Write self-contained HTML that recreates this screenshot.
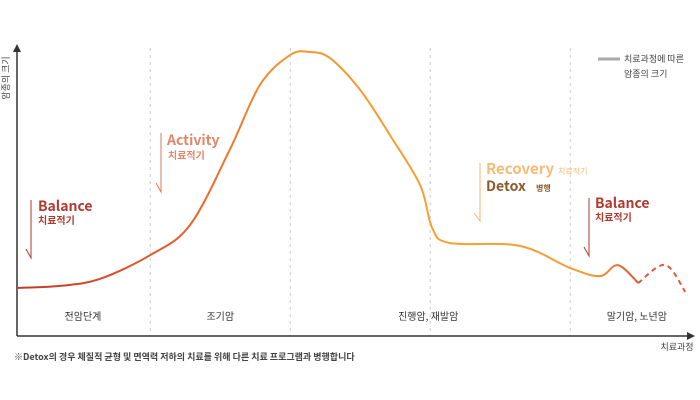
<!DOCTYPE html>
<html><head><meta charset="utf-8"><style>
body{margin:0;background:#fff;}
svg{display:block;font-family:"Noto Sans CJK KR","Liberation Sans",sans-serif;}
</style></head><body>
<svg id="chart" width="700" height="400" viewBox="0 0 700 400">
<defs>
<linearGradient id="g" gradientUnits="userSpaceOnUse" x1="17" y1="0" x2="690" y2="0">
<stop offset="0" stop-color="#c0392b"/><stop offset="0.25" stop-color="#e8602c"/>
<stop offset="0.4" stop-color="#f7942f"/><stop offset="0.65" stop-color="#f8a233"/>
<stop offset="0.85" stop-color="#f39a3a"/><stop offset="0.93" stop-color="#d9532c"/><stop offset="1" stop-color="#e05a3a"/>
</linearGradient>
</defs>
<g id="grid"></g>
<line x1="17" y1="336" x2="17" y2="50" stroke="#333" stroke-width="1.5"/>
<polygon points="17,44 13,52 21,52" fill="#333"/>
<line x1="17" y1="336" x2="688" y2="336" stroke="#333" stroke-width="1.5"/>
<polygon points="695,336 687,332 687,340" fill="#333"/>
<text transform="translate(9,78) rotate(-90)" text-anchor="middle" font-size="9" fill="#444">암종의 크기</text>
<text x="677" y="350" text-anchor="middle" font-size="9" fill="#444">치료과정</text>
<g id="curve"></g>
<g id="stages"></g>
<line x1="598" y1="59" x2="620" y2="59" stroke="#aaa" stroke-width="3"/>
<text x="624" y="62" font-size="9" fill="#444">치료과정에 따른</text>
<text x="624" y="77" font-size="9" fill="#444">암종의 크기</text>
<g>
<path d="M31,200 V258 L26,249" fill="none" stroke="#b03a2e" stroke-width="1"/>
<text x="38" y="211" font-size="14" font-weight="bold" fill="#b03a2e">Balance</text>
<text x="38" y="224" font-size="10" font-weight="bold" fill="#b03a2e">치료적기</text>
</g>
<g>
<path d="M161,133 V192 L156,183" fill="none" stroke="#d9785a" stroke-width="1"/>
<text x="167" y="145" font-size="14" font-weight="bold" fill="#e0866a">Activity</text>
<text x="168" y="159" font-size="10" font-weight="bold" fill="#e0866a">치료적기</text>
</g>
<g>
<path d="M480,163 V221 L474,213" fill="none" stroke="#f5b66b" stroke-width="1"/>
<text x="486" y="174" font-size="15" font-weight="bold" fill="#f6bb74">Recovery</text>
<text x="558" y="174" font-size="8" fill="#f6bb74">치료적기</text>
<text x="486" y="191" font-size="14" font-weight="bold" fill="#8b5a2b">Detox</text>
<text x="536" y="191" font-size="8" font-weight="bold" fill="#8b5a2b">병행</text>
</g>
<g>
<path d="M589,198 V256 L584,247" fill="none" stroke="#b03a2e" stroke-width="1"/>
<text x="595" y="208" font-size="14" font-weight="bold" fill="#b03a2e">Balance</text>
<text x="595" y="221" font-size="10" font-weight="bold" fill="#b03a2e">치료적기</text>
</g>
<text x="14" y="360" font-size="9" font-weight="bold" fill="#444">※Detox의 경우 체질적 균형 및 면역력 저하의 치료를 위해 다른 치료 프로그램과 병행합니다</text>
</svg>
<script>
const progress=[0,6.4,12.3,19.8,25.7,31.6,36.1,40.6,43.5,46.5,51,55.4,59.9,61.7,64.3,74.7,82.2,86.6,89.3,92.3];
const tumorSize=[16.7,17.4,19.8,28.1,38.5,64.6,87.2,97.6,98.6,96.5,85.4,69.8,52.4,37.5,32.3,31.3,23.6,20.8,24.6,18.4];
const projProgress=[92.3,96.3,99.3];
const projSize=[18.4,24.7,15.3];
const dividers=[19.8,40.6,61.4,82.2];
const stageNames=["전암단계","조기암","진행암, 재발암","말기암, 노년암"];
const stageCenters=[9.8,30.2,61.1,92.1];
const NS="http://www.w3.org/2000/svg";
const xS=v=>17+v*6.73, yS=v=>336-v*2.88;
function smooth(xs,ys){const p=xs.map((x,i)=>[xS(x),yS(ys[i])]);let d="M"+p[0][0]+","+p[0][1];
for(let i=0;i<p.length-1;i++){const p0=p[i-1]||p[i],p1=p[i],p2=p[i+1],p3=p[i+2]||p2;
d+=" C"+(p1[0]+(p2[0]-p0[0])/6)+","+(p1[1]+(p2[1]-p0[1])/6)+" "+(p2[0]-(p3[0]-p1[0])/6)+","+(p2[1]-(p3[1]-p1[1])/6)+" "+p2[0]+","+p2[1];}return d;}
const c=document.getElementById('curve');
let l=document.createElementNS(NS,'path');


l.setAttribute('d',smooth(progress,tumorSize));l.setAttribute('fill','none');l.setAttribute('stroke','url(#g)');l.setAttribute('stroke-width','2');c.appendChild(l);
let l2=document.createElementNS(NS,'path');


l2.setAttribute('d',smooth(projProgress,projSize));l2.setAttribute('fill','none');l2.setAttribute('stroke','#e05a3a');l2.setAttribute('stroke-width','2');l2.setAttribute('stroke-dasharray','5,4');c.appendChild(l2);
const g=document.getElementById('grid');
dividers.forEach(v=>{const ln=document.createElementNS(NS,'line');


ln.setAttribute('x1',xS(v));ln.setAttribute('x2',xS(v));ln.setAttribute('y1',48);ln.setAttribute('y2',336);ln.setAttribute('stroke','#ccc');ln.setAttribute('stroke-dasharray','3,4');g.appendChild(ln);});
const s=document.getElementById('stages');
stageNames.forEach((n,i)=>{const t=document.createElementNS(NS,'text');


t.setAttribute('x',xS(stageCenters[i]));t.setAttribute('y',320);t.setAttribute('text-anchor','middle');t.setAttribute('font-size','10');t.setAttribute('fill','#333');t.textContent=n;s.appendChild(t);});
</script>
</body></html>
